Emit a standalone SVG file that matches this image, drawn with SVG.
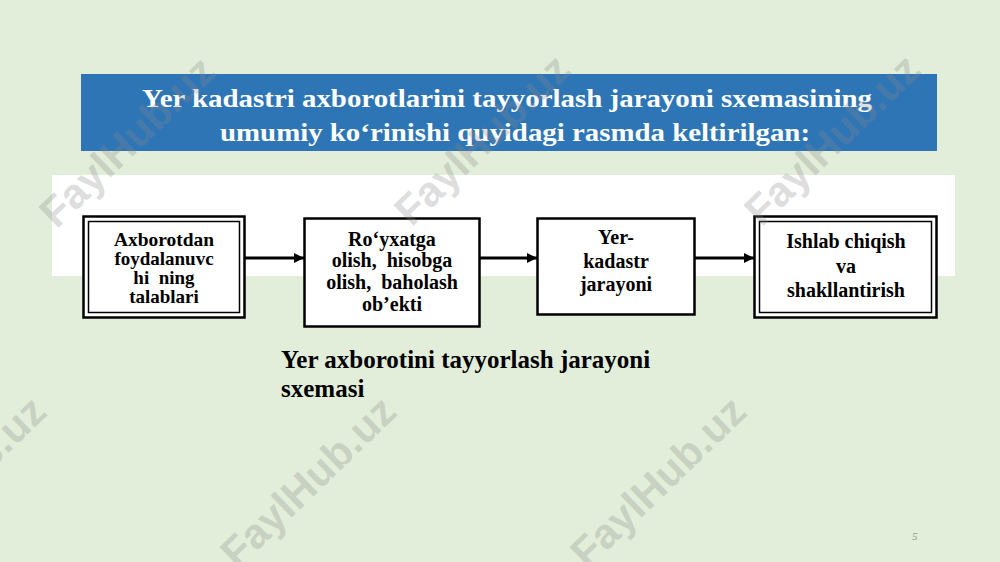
<svg xmlns="http://www.w3.org/2000/svg" width="1000" height="562" viewBox="0 0 1000 562">
<defs>
<marker id="arr" viewBox="0 0 10 10" refX="10" refY="5" markerWidth="10" markerHeight="10" markerUnits="userSpaceOnUse" orient="auto">
<path d="M0,0 L10,5 L0,10 z" fill="#000"/>
</marker>
</defs>
<style>
.t{font-family:"Liberation Serif","Times New Roman",serif;font-weight:bold;fill:#000;text-anchor:middle;white-space:pre}
.nt{font-size:20px}
.n1{font-size:19px}
.box{fill:#fff;stroke:#000;stroke-width:2.5}
.in{fill:none;stroke:#000;stroke-width:1.5}
.ttl{font-family:"Liberation Serif","Times New Roman",serif;font-weight:bold;fill:#fff;font-size:26px;text-anchor:middle}
.wm{font-family:"Liberation Sans",Arial,sans-serif;font-weight:bold;font-size:42px;fill:#8a8a8a;fill-opacity:0.3;text-anchor:middle}
.cn{stroke:#000;stroke-width:3;fill:none}
</style>
<rect x="0" y="0" width="1000" height="562" fill="#e2eed9"/>
<rect x="52" y="175" width="903" height="101" fill="#ffffff"/>
<g id="title">
<rect x="81" y="74" width="856" height="77" fill="#2e75b6"/>
<text class="ttl" x="507" y="107" textLength="730" lengthAdjust="spacingAndGlyphs">Yer kadastri axborotlarini tayyorlash jarayoni sxemasining</text>
<text class="ttl" x="515" y="141" textLength="590" lengthAdjust="spacingAndGlyphs">umumiy ko‘rinishi quyidagi rasmda keltirilgan:</text>
</g>
<g id="connectors">
<line class="cn" x1="245" y1="258" x2="304" y2="258" marker-end="url(#arr)"/>
<line class="cn" x1="480" y1="258" x2="537" y2="258" marker-end="url(#arr)"/>
<line class="cn" x1="695" y1="258" x2="754" y2="258" marker-end="url(#arr)"/>
</g>
<g id="node1">
<rect class="box" x="83.5" y="216.5" width="161" height="101"/>
<rect class="in" x="88.5" y="221.5" width="151" height="91"/>
<text class="t n1" x="164" y="246" textLength="100" lengthAdjust="spacingAndGlyphs">Axborotdan</text>
<text class="t n1" x="164" y="265">foydalanuvc</text>
<text class="t n1" x="164" y="284">hi  ning</text>
<text class="t n1" x="164" y="303">talablari</text>
</g>
<g id="node2">
<rect class="box" x="304.5" y="218.5" width="175" height="108"/>
<text class="t nt" x="392" y="246">Ro‘yxatga</text>
<text class="t nt" x="392" y="267">olish,  hisobga</text>
<text class="t nt" x="392" y="289">olish,  baholash</text>
<text class="t nt" x="392" y="311">ob’ekti</text>
</g>
<g id="node3">
<rect class="box" x="537.5" y="218.5" width="157" height="96"/>
<text class="t nt" x="616" y="244">Yer-</text>
<text class="t nt" x="616" y="268">kadastr</text>
<text class="t nt" x="616" y="291">jarayoni</text>
</g>
<g id="node4">
<rect class="box" x="754.5" y="216.5" width="182" height="101"/>
<rect class="in" x="759.5" y="221.5" width="172" height="91"/>
<text class="t nt" x="846" y="248">Ishlab chiqish</text>
<text class="t nt" x="846" y="273">va</text>
<text class="t nt" x="846" y="297">shakllantirish</text>
</g>
<g id="caption">
<text class="t" style="font-size:25px;text-anchor:start" x="281" y="368">Yer axborotini tayyorlash jarayoni</text>
<text class="t" style="font-size:25px;text-anchor:start" x="281" y="397">sxemasi</text>
</g>
<text x="912" y="540" style="font-family:'Liberation Serif',serif;font-size:11px;fill:#8a9a8a;font-style:italic">5</text>
<g id="watermarks">
<text class="wm" transform="translate(137,152) rotate(-44)">FaylHub.uz</text>
<text class="wm" transform="translate(492,150) rotate(-44)">FaylHub.uz</text>
<text class="wm" transform="translate(842,150) rotate(-44)">FaylHub.uz</text>
<text class="wm" transform="translate(-32,492) rotate(-44)">FaylHub.uz</text>
<text class="wm" transform="translate(318,492) rotate(-44)">FaylHub.uz</text>
<text class="wm" transform="translate(668,492) rotate(-44)">FaylHub.uz</text>
</g>
</svg>
